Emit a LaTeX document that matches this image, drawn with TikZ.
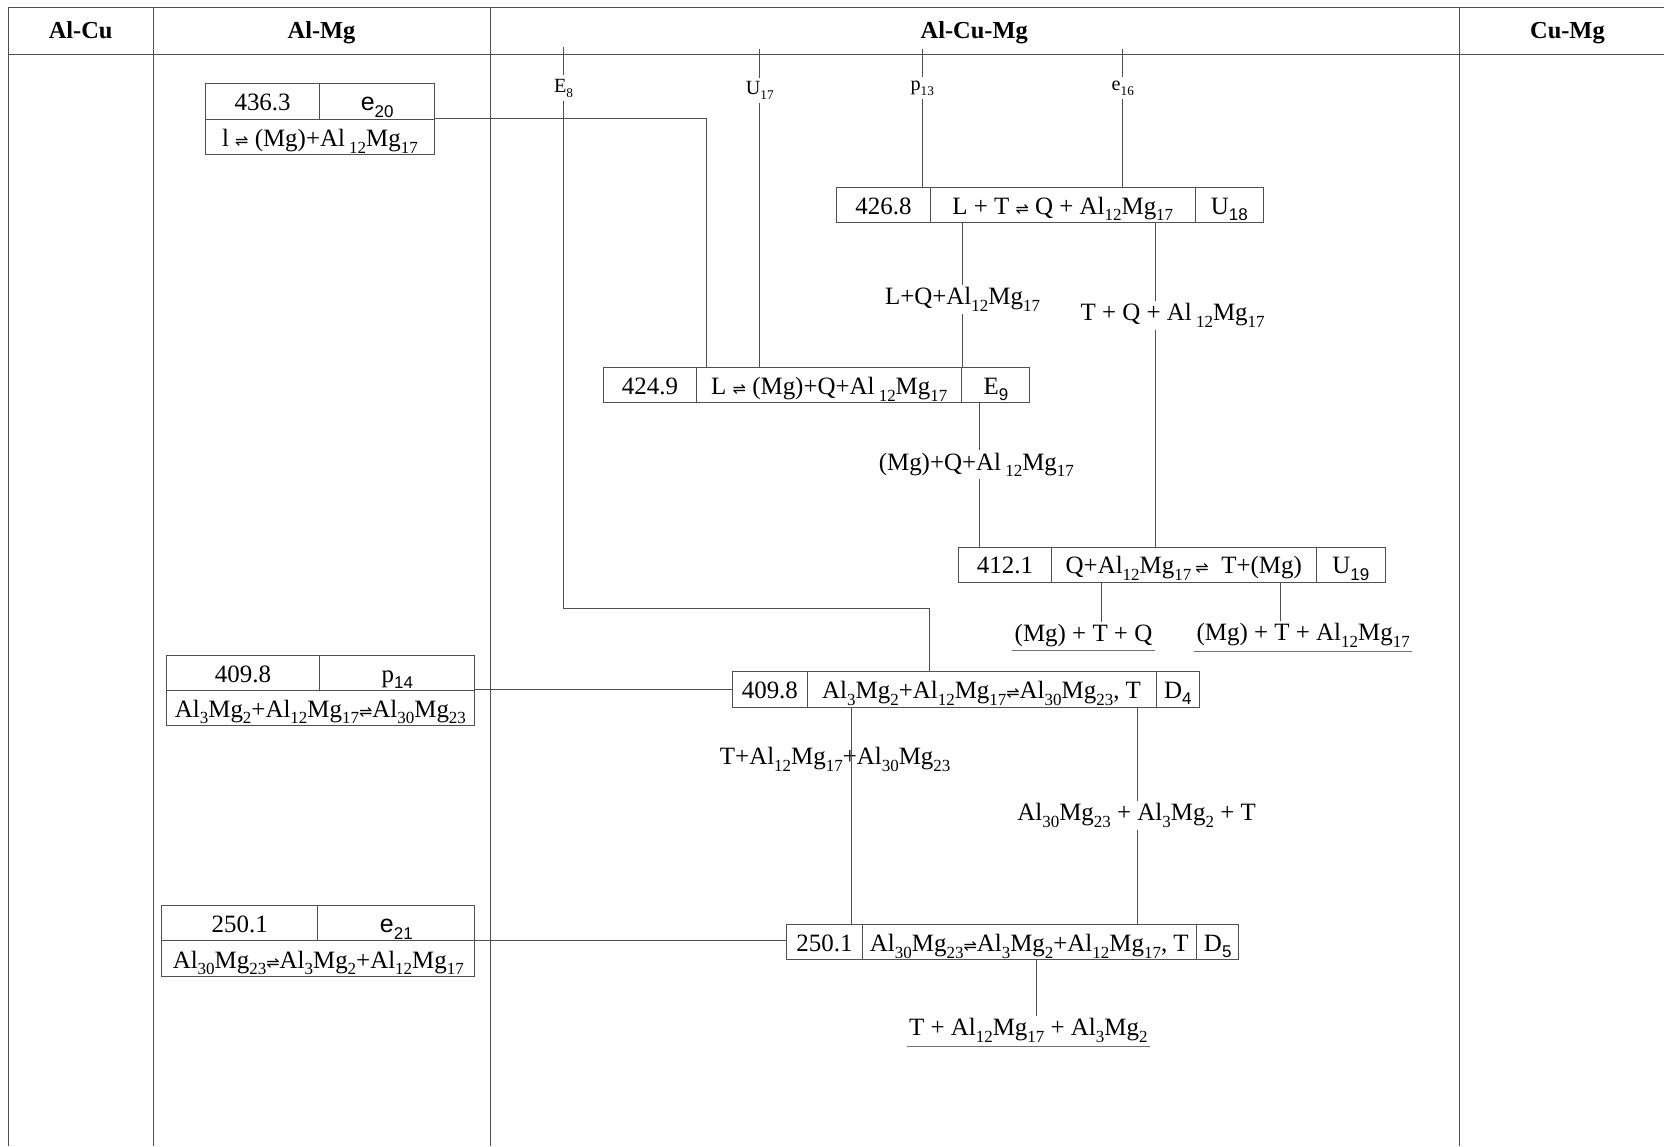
\documentclass[tikz,border=0pt]{standalone}
\usepackage{fontspec}
\setmainfont{Liberation Serif}
\setsansfont{Liberation Sans}
\newfontfamily\dejavu{DejaVu Sans}
\newcommand\sbs[1]{\raisebox{-0.6ex}{\fontsize{16}{16}\selectfont #1}}
\newcommand\ssb[1]{\raisebox{-0.55ex}{\sffamily\fontsize{16}{16}\selectfont #1}}
\newcommand\tsb[1]{\raisebox{-0.55ex}{\fontsize{12.5}{12.5}\selectfont #1}}
\newcommand\eqa{{\dejavu\fontsize{15}{15}\selectfont ⇌}}
\definecolor{lc}{HTML}{505050}
\tikzset{
  ln/.style={draw=lc, line width=0.9pt},
  cell/.style={draw=lc, line width=0.9pt, minimum width=#1, minimum height=33pt, inner sep=0pt, text height=17.5pt, text depth=0pt, anchor=north west, font=\fontsize{23.5}{27}\selectfont},
  lab/.style={inner sep=2pt, font=\fontsize{23.5}{27}\selectfont},
  tick/.style={inner sep=3pt, font=\fontsize{19}{22}\selectfont},
  hdr/.style={inner sep=0pt, anchor=base, font=\bfseries\fontsize{23}{27}\selectfont},
  ul/.style={draw=lc!80, line width=0.9pt}
}
\begin{document}
\begin{tikzpicture}[x=1pt,y=-1pt]
\useasboundingbox (0,0) rectangle (1568,1080);
% frame
\draw[ln] (8,1080) -- (8,7) -- (1568,7);
\draw[ln] (8,51) -- (1568,51);
\draw[ln] (145,7) -- (145,1080);
\draw[ln] (462,7) -- (462,1080);
\draw[ln] (1375,7) -- (1375,1080);
\node[hdr] (h1) at (76,36) {Al-Cu};
\node[hdr] (h2) at (303,36) {Al-Mg};
\node[hdr] (h3) at (918,36) {Al-Cu-Mg};
\node[hdr] (h4) at (1477,36) {Cu-Mg};

% e20 box
\node[cell=108pt, minimum height=34pt] (e20a) at (193,78) {436.3};
\node[cell=108pt, minimum height=34pt] (e20b) at (301,78) {\sffamily e\ssb{20}};
\node[cell=216pt] (e20c) at (193,112) {l \eqa\ (Mg)+Al\,\sbs{12}Mg\sbs{17}};

% p14 box
\node[cell=145pt] (p14a) at (156,617) {409.8};
\node[cell=146pt] (p14b) at (301,617) {p\ssb{14}};
\node[cell=291pt] (p14c) at (156,650) {Al\sbs{3}Mg\sbs{2}+Al\sbs{12}Mg\sbs{17}\eqa Al\sbs{30}Mg\sbs{23}};

% e21 box
\node[cell=147pt] (e21a) at (152,853) {250.1};
\node[cell=148pt] (e21b) at (299,853) {\sffamily e\ssb{21}};
\node[cell=295pt, minimum height=34pt] (e21c) at (152,886) {Al\sbs{30}Mg\sbs{23}\eqa Al\sbs{3}Mg\sbs{2}+Al\sbs{12}Mg\sbs{17}};

% U18 box
\node[cell=88pt] (u18a) at (788,176) {426.8};
\node[cell=250pt] (u18b) at (876,176) {L + T \eqa\ Q + Al\sbs{12}Mg\sbs{17}};
\node[cell=64pt] (u18c) at (1126,176) {U\ssb{18}};

% E9 box
\node[cell=88pt] (e9a) at (568,346) {424.9};
\node[cell=250pt] (e9b) at (656,346) {L \eqa\ (Mg)+Q+Al\,\sbs{12}Mg\sbs{17}};
\node[cell=64pt] (e9c) at (906,346) {E\ssb{9}};

% U19 box
\node[cell=87pt] (u19a) at (903,515) {412.1};
\node[cell=250pt] (u19b) at (990,515) {Q+Al\sbs{12}Mg\sbs{17}\,\eqa\ \ T+(Mg)};
\node[cell=65pt] (u19c) at (1240,515) {U\ssb{19}};

% D4 box
\node[cell=70pt, minimum height=34pt] (d4a) at (690,632) {409.8};
\node[cell=329pt, minimum height=34pt] (d4b) at (760,632) {Al\sbs{3}Mg\sbs{2}+Al\sbs{12}Mg\sbs{17}\eqa Al\sbs{30}Mg\sbs{23}, T};
\node[cell=41pt, minimum height=34pt] (d4c) at (1089,632) {D\ssb{4}};

% D5 box
\node[cell=71pt] (d5a) at (741,871) {250.1};
\node[cell=315pt] (d5b) at (812,871) {Al\sbs{30}Mg\sbs{23}\eqa Al\sbs{3}Mg\sbs{2}+Al\sbs{12}Mg\sbs{17}, T};
\node[cell=40pt] (d5c) at (1127,871) {D\ssb{5}};

% tick labels from header
\node[tick] (lE8) at (531,83) {E\tsb{8}};
\node[tick] (lU17) at (716,85) {U\tsb{17}};
\node[tick] (lp13) at (869,83) {p\tsb{13}};
\node[tick] (le16) at (1058,83) {e\tsb{16}};
\coordinate (tE8) at (531,44);
\coordinate (tU17) at (716,46);
\coordinate (tp13) at (869,46);
\coordinate (te16) at (1058,46);

% intermediate labels
\node[lab] (lLQ) at (907,282) {L+Q+Al\sbs{12}Mg\sbs{17}};
\node[lab] (lTQ) at (1105,297) {T + Q + Al\,\sbs{12}Mg\sbs{17}};
\node[lab] (lMQ) at (920,438) {(Mg)+Q+Al\,\sbs{12}Mg\sbs{17}};
\node[lab] (lMTQ) at (1021,599) {(Mg) + T + Q};
\node[lab] (lMTA) at (1228,599) {(Mg) + T + Al\sbs{12}Mg\sbs{17}};
\node[lab] (lTAA) at (787,716) {T+Al\sbs{12}Mg\sbs{17}+Al\sbs{30}Mg\sbs{23}};
\node[lab] (lAAT) at (1071,768) {Al\sbs{30}Mg\sbs{23} + Al\sbs{3}Mg\sbs{2} + T};
\node[lab] (lTAM) at (969,971) {T + Al\sbs{12}Mg\sbs{17} + Al\sbs{3}Mg\sbs{2}};

% bend points and line columns
\coordinate (b1) at (666,112);
\coordinate (k1) at (531,573);
\coordinate (k2) at (876,573);
\coordinate (x907) at (907,0);
\coordinate (x1089) at (1089,0);
\coordinate (x923) at (923,0);
\coordinate (x1038) at (1038,0);
\coordinate (x1207) at (1207,0);
\coordinate (x802) at (802,0);
\coordinate (x1072) at (1072,0);
\coordinate (x977) at (977,0);

% connectors
\draw[ln] (e20c.north east) -- (b1) -- (b1 |- e9b.north);
\draw[ln] (tE8) -- (lE8.north);
\draw[ln] (lE8.south) -- (k1) -- (k2) -- (k2 |- d4b.north);
\draw[ln] (tU17) -- (lU17.north);
\draw[ln] (lU17.south) -- (lU17.south |- e9b.north);
\draw[ln] (tp13) -- (lp13.north);
\draw[ln] (lp13.south) -- (lp13.south |- u18a.north);
\draw[ln] (te16) -- (le16.north);
\draw[ln] (le16.south) -- (le16.south |- u18b.north);

\draw[ln] (x907 |- u18b.south) -- (x907 |- lLQ.north);
\draw[ln] (x907 |- lLQ.south) -- (x907 |- e9b.north);
\draw[ln] (x1089 |- u18b.south) -- (x1089 |- lTQ.north);
\draw[ln] (x1089 |- lTQ.south) -- (x1089 |- u19b.north);
\draw[ln] (x923 |- e9c.south) -- (x923 |- lMQ.north);
\draw[ln] (x923 |- lMQ.south) -- (x923 |- u19a.north);
\draw[ln] (x1038 |- u19b.south) -- (x1038 |- lMTQ.north);
\draw[ln] (x1207 |- u19b.south) -- (x1207 |- lMTA.north);
\draw[ul] ([yshift=-1pt]lMTQ.south west) -- ([yshift=-1pt]lMTQ.south east);
\draw[ul] ([yshift=-1pt]lMTA.south west) -- ([yshift=-1pt]lMTA.south east);

\draw[ln] (p14c.north east) -- (p14c.north east -| d4a.west);
\draw[ln] (x802 |- d4b.south) -- (x802 |- d5a.north);
\draw[ln] (x1072 |- d4b.south) -- (x1072 |- lAAT.north);
\draw[ln] (x1072 |- lAAT.south) -- (x1072 |- d5b.north);

\draw[ln] (e21c.north east) -- (e21c.north east -| d5a.west);
\draw[ln] (x977 |- d5b.south) -- (x977 |- lTAM.north);
\draw[ul] ([yshift=-1pt]lTAM.south west) -- ([yshift=-1pt]lTAM.south east);
\end{tikzpicture}
\end{document}
